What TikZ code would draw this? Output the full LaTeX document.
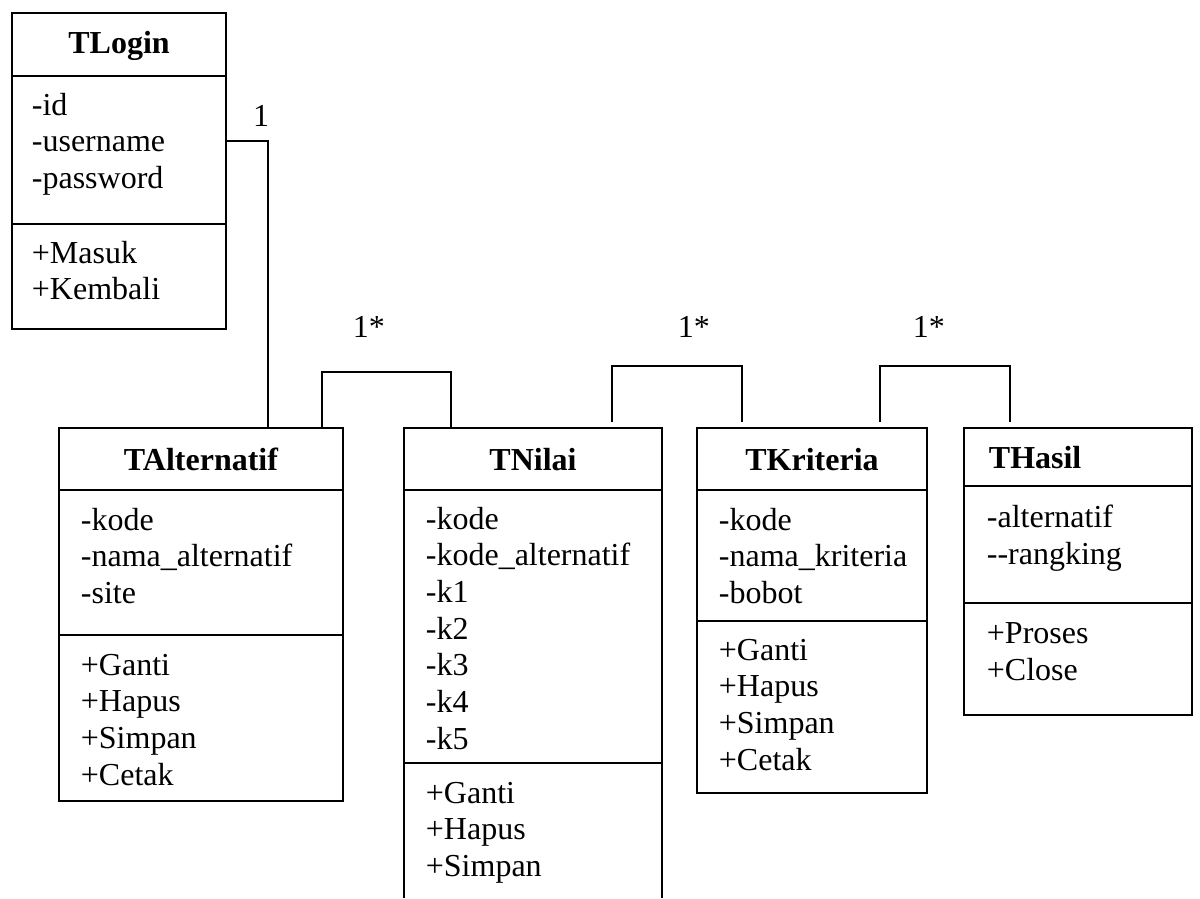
\documentclass[tikz,border=0pt]{standalone}
\usepackage{fontspec}
\setmainfont{Liberation Serif}
\begin{document}
\begin{tikzpicture}[x=1pt, y=-1pt, line width=1.8pt, line join=miter,
  cls/.style={draw, rectangle, inner sep=0pt, outer sep=0pt, anchor=north west},
  ttl/.style={font=\fontsize{32}{36.7}\selectfont\bfseries, inner sep=0pt, anchor=base},
  txt/.style={font=\fontsize{32}{36.7}\selectfont, inner sep=0pt, align=left, anchor=base west},
  mult/.style={font=\fontsize{32}{36.7}\selectfont, inner sep=0pt}]
\useasboundingbox (0,0) rectangle (1200,898);

% class boxes
\node[cls, minimum width=214pt, minimum height=316pt] (login) at (12,13) {};
\node[cls, minimum width=284pt, minimum height=373pt] (alt) at (59,428) {};
\node[cls, draw=none, minimum width=258pt, minimum height=470pt] (nilai) at (404,428) {};
\node[cls, minimum width=230pt, minimum height=365pt] (krit) at (697,428) {};
\node[cls, minimum width=228pt, minimum height=287pt] (hasil) at (964,428) {};
\draw (nilai.south west) -- (nilai.north west) -- (nilai.north east) -- (nilai.south east);

% compartment dividers
\draw (login.west |- 0,76) -- (login.east |- 0,76);
\draw (login.west |- 0,224) -- (login.east |- 0,224);
\draw (alt.west |- 0,490) -- (alt.east |- 0,490);
\draw (alt.west |- 0,635) -- (alt.east |- 0,635);
\draw (nilai.west |- 0,490) -- (nilai.east |- 0,490);
\draw (nilai.west |- 0,763) -- (nilai.east |- 0,763);
\draw (krit.west |- 0,490) -- (krit.east |- 0,490);
\draw (krit.west |- 0,621) -- (krit.east |- 0,621);
\draw (hasil.west |- 0,486) -- (hasil.east |- 0,486);
\draw (hasil.west |- 0,603) -- (hasil.east |- 0,603);

% class names
\node[ttl] (loginT) at (119,53) {TLogin};
\node[ttl] (altT) at (201,470) {TAlternatif};
\node[ttl] (nilaiT) at (533,470) {TNilai};
\node[ttl] (kritT) at (812,470) {TKriteria};
\node[ttl, anchor=base west] (hasilT) at (988,468) {THasil};

% attributes and operations (base anchor sits on the last line)
\node[txt] (loginA) at (31,188.4) {-id\\-username\\-password};
\node[txt] (loginM) at (31,299.7) {+Masuk\\+Kembali};
\node[txt] (altA) at (80,603.4) {-kode\\-nama\_alternatif\\-site};
\node[txt] (altM) at (80,785.1) {+Ganti\\+Hapus\\+Simpan\\+Cetak};
\node[txt] (nilaiA) at (425,749.2) {-kode\\-kode\_alternatif\\-k1\\-k2\\-k3\\-k4\\-k5};
\node[txt] (nilaiM) at (425,876.4) {+Ganti\\+Hapus\\+Simpan};
\node[txt] (kritA) at (718,603.4) {-kode\\-nama\_kriteria\\-bobot};
\node[txt] (kritM) at (718,770.1) {+Ganti\\+Hapus\\+Simpan\\+Cetak};
\node[txt] (hasilA) at (986,564) {-alternatif\\-{}-rangking};
\node[txt] (hasilM) at (986,680) {+Proses\\+Close};

% associations
\draw (login.east |- 0,141) -| (alt.north -| 268,0);
\draw (alt.north -| 322,0) -- (322,372) -| (nilai.north -| 451,0);
\draw[shorten <=6pt, shorten >=6pt] (nilai.north -| 612,0) -- (612,366) -| (krit.north -| 742,0);
\draw[shorten <=6pt, shorten >=6pt] (krit.north -| 880,0) -- (880,366) -| (hasil.north -| 1010,0);

% multiplicities
\node[mult, anchor=base] (m1) at (261,126) {1};
\node[mult, anchor=base west] (m2) at (352,337) {1*};
\node[mult, anchor=base west] (m3) at (677,337) {1*};
\node[mult, anchor=base west] (m4) at (912,337) {1*};
\end{tikzpicture}
\end{document}
